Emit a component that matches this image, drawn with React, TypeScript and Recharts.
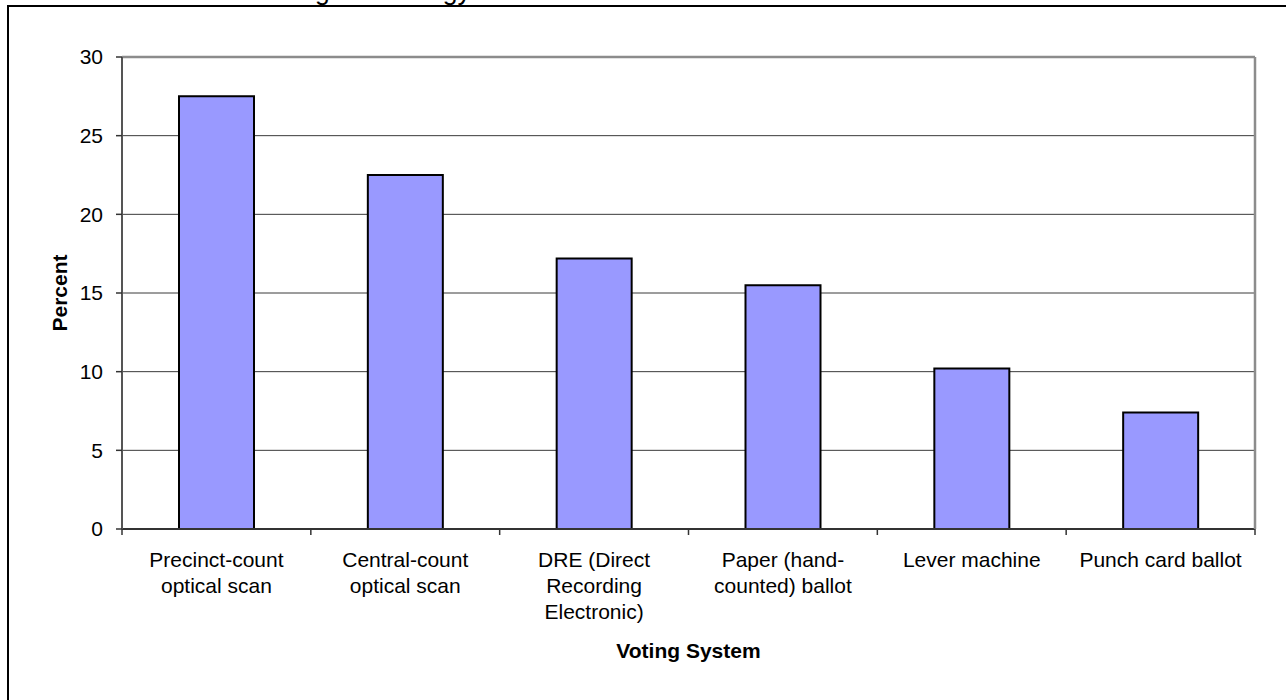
import { Bar, BarChart, CartesianGrid, Label, ReferenceLine, XAxis, YAxis } from "recharts";

const categories = [
  "Precinct-count\noptical scan",
  "Central-count\noptical scan",
  "DRE (Direct\nRecording\nElectronic)",
  "Paper (hand-\ncounted) ballot",
  "Lever machine",
  "Punch card ballot"
];
const percents = [27.5, 22.5, 17.2, 15.5, 10.2, 7.4];
const yTicks = [0, 5, 10, 15, 20, 25, 30];

const data = categories.map((label, i) => ({ label, value: percents[i] }));

const FONT = "'Liberation Sans', Arial, sans-serif";
const WIDTH = 1286;
const HEIGHT = 700;
const Y_AXIS_W = 122;
const RIGHT_W = 31;
const BAND = (WIDTH - Y_AXIS_W - RIGHT_W) / categories.length;

// category label split over lines, plus the tick marks on the band edges
function CategoryTick(props: any) {
  const { x, y, payload, index } = props;
  const lines = String(payload.value).split("\n");
  return (
    <g>
      <line x1={x - BAND / 2} x2={x - BAND / 2} y1={y} y2={y + 6} stroke="#333" strokeWidth={1.5} />
      {index === categories.length - 1 && (
        <line x1={x + BAND / 2} x2={x + BAND / 2} y1={y} y2={y + 6} stroke="#333" strokeWidth={1.5} />
      )}
      <text x={x} y={y + 38} textAnchor="middle" fontFamily={FONT} fontSize={21} fill="#000">
        {lines.map((line, i) => (
          <tspan key={i} x={x} dy={i === 0 ? 0 : 26}>
            {line}
          </tspan>
        ))}
      </text>
    </g>
  );
}

export default function App() {
  return (
    <div
      style={{
        position: "absolute",
        top: 0,
        left: 0,
        width: WIDTH,
        height: HEIGHT,
        overflow: "hidden",
        background: "#fff"
      }}
    >
      <div
        style={{
          position: "absolute",
          top: 5,
          left: 7,
          width: 1400,
          height: 800,
          borderTop: "2px solid #000",
          borderLeft: "2px solid #000"
        }}
      />
      <svg width={WIDTH} height={20} style={{ position: "absolute", top: 0, left: 0 }}>
        <text x={256} y={0} fontFamily={FONT} fontSize={26.5} fill="#000">
          Voting Technology
        </text>
      </svg>
      <div style={{ position: "absolute", top: 0, left: 0 }}>
        <BarChart
          width={WIDTH}
          height={HEIGHT}
          data={data}
          margin={{ top: 57, right: 0, bottom: 0, left: 0 }}
        >
          <CartesianGrid vertical={false} stroke="#3a3a3a" strokeWidth={1} />
          <XAxis
            dataKey="label"
            height={171}
            interval={0}
            tickLine={false}
            tickSize={0}
            tickMargin={0}
            axisLine={{ stroke: "#333", strokeWidth: 2 }}
            tick={<CategoryTick />}
          >
            <Label
              value="Voting System"
              position="insideBottom"
              offset={42}
              style={{ fontFamily: FONT, fontSize: 21, fontWeight: "bold", fill: "#000" }}
            />
          </XAxis>
          <YAxis
            width={Y_AXIS_W}
            domain={[0, 30]}
            ticks={yTicks}
            tickSize={6}
            tickMargin={13}
            tickLine={{ stroke: "#333", strokeWidth: 1.5 }}
            axisLine={{ stroke: "#555", strokeWidth: 2 }}
            tick={{ fontFamily: FONT, fontSize: 21, fill: "#000" }}
          >
            <Label
              value="Percent"
              position="center"
              angle={-90}
              dx={-1}
              style={{ fontFamily: FONT, fontSize: 21, fontWeight: "bold", fill: "#000" }}
            />
          </YAxis>
          <YAxis
            yAxisId="right"
            orientation="right"
            width={RIGHT_W}
            domain={[0, 30]}
            tick={false}
            tickLine={false}
            axisLine={{ stroke: "#8c8c8c", strokeWidth: 2.5 }}
          />
          <ReferenceLine y={30} stroke="#8c8c8c" strokeWidth={2.5} />
          <Bar
            dataKey="value"
            fill="#9999ff"
            stroke="#000"
            strokeWidth={2}
            barSize={75}
            isAnimationActive={false}
          />
        </BarChart>
      </div>
    </div>
  );
}
